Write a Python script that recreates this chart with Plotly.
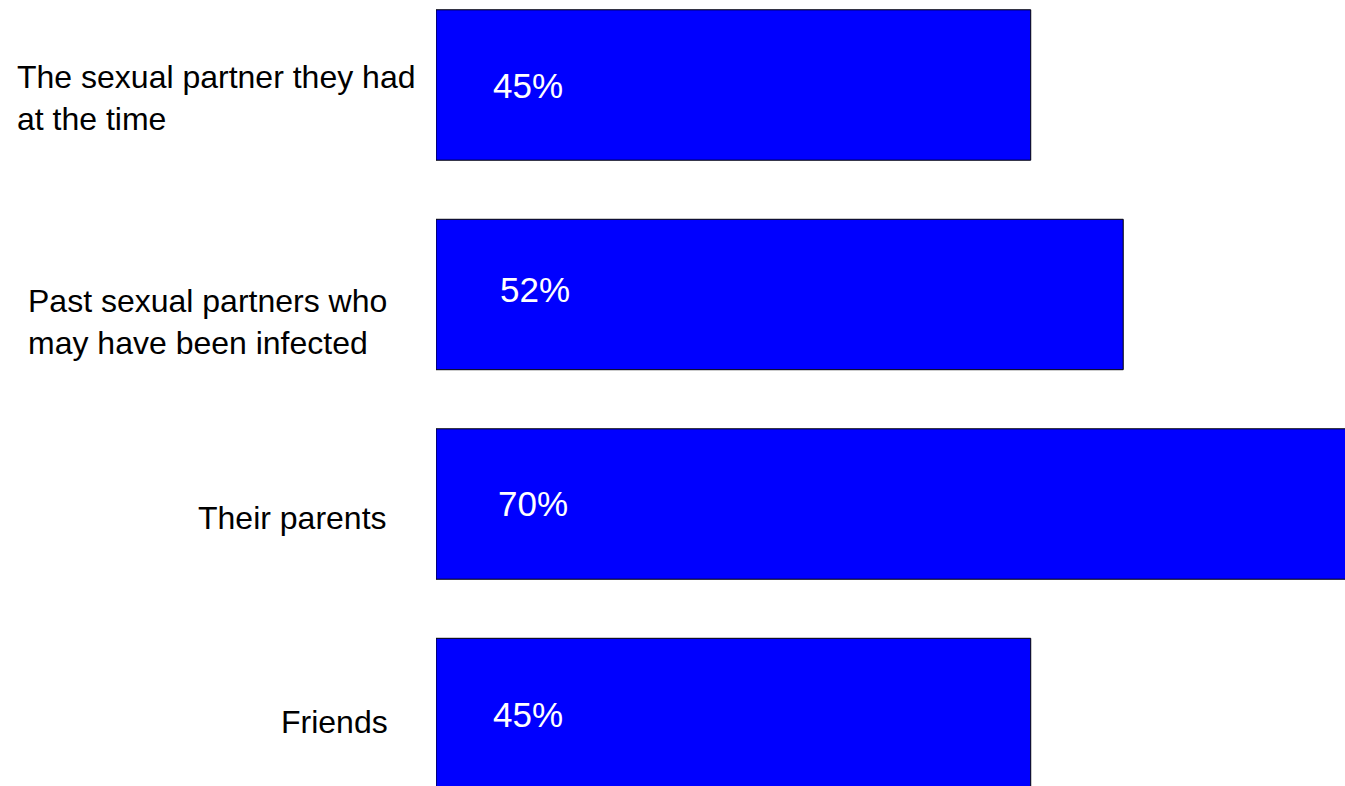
import plotly.graph_objects as go

categories = [
    "The sexual partner they had<br>at the time",
    "Past sexual partners who<br>may have been infected",
    "Their parents",
    "Friends",
]
values = [45, 52, 70, 45]
value_labels = ["45%", "52%", "70%", "45%"]

# style: per-label placement tweaks (pixels)
pct_dx = [92, 99, 97, 92]
pct_dy = [0, 5, 1, -1]
cat_anchor = ["left", "left", "right", "right"]
cat_xpx = [15, 26, 389, 390]
cat_dy = [-13, -27, -14, -8]

W, H = 1345, 786
ML = 436
PW = W - ML

FONT = "Liberation Sans, Arial, sans-serif"

fig = go.Figure(
    go.Bar(
        x=values,
        y=categories,
        orientation="h",
        width=0.718,
        marker=dict(color="#0000FF", line=dict(color="black", width=1)),
        hoverinfo="skip",
    )
)

annotations = []
for i, (cat, lab) in enumerate(zip(categories, value_labels)):
    annotations.append(
        dict(
            x=0, y=cat, xref="x", yref="y", text=lab, showarrow=False,
            xanchor="center", yanchor="middle", xshift=pct_dx[i], yshift=pct_dy[i],
            font=dict(family=FONT, size=35, color="white"),
        )
    )
    annotations.append(
        dict(
            x=(cat_xpx[i] - ML) / PW, y=cat, xref="paper", yref="y", text=cat,
            showarrow=False, xanchor=cat_anchor[i], yanchor="middle",
            align="left", yshift=cat_dy[i],
            font=dict(family=FONT, size=32, color="black"),
        )
    )

fig.update_layout(
    width=W, height=H,
    margin=dict(l=ML, r=0, t=0, b=0, pad=0),
    paper_bgcolor="white", plot_bgcolor="white",
    showlegend=False,
    xaxis=dict(range=[0, 68.78], visible=False),
    yaxis=dict(range=[3.346, -0.4057], visible=False, type="category"),
    annotations=annotations,
)

fig.write_html(
    "out.html",
    config={"displayModeBar": False},
    post_script="document.body.style.margin='0';document.body.style.overflow='hidden';",
)
